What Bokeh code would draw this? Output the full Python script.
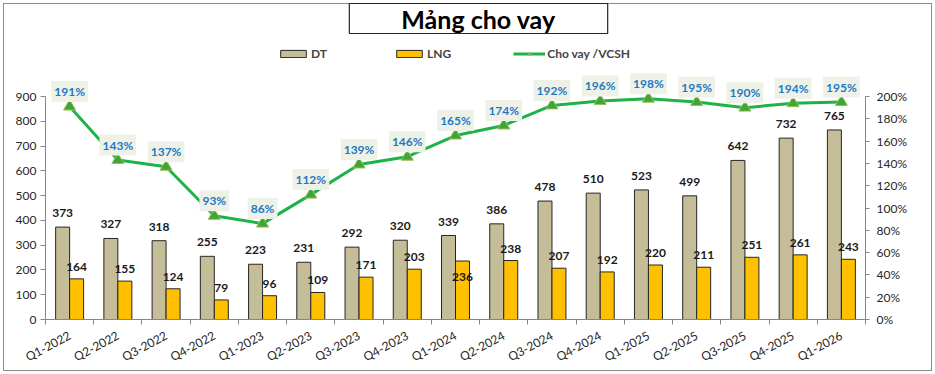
from bokeh.plotting import figure
from bokeh.models import (ColumnDataSource, Range1d, LinearAxis, FixedTicker, NumeralTickFormatter,
                          LabelSet, Label, Legend, LegendItem)
from bokeh.core.properties import value
from bokeh.embed import file_html
from bokeh.resources import INLINE

title_text = "Mảng cho vay"
categories = ["Q1-2022", "Q2-2022", "Q3-2022", "Q4-2022", "Q1-2023", "Q2-2023", "Q3-2023", "Q4-2023",
              "Q1-2024", "Q2-2024", "Q3-2024", "Q4-2024", "Q1-2025", "Q2-2025", "Q3-2025", "Q4-2025", "Q1-2026"]
dt = [373, 327, 318, 255, 223, 231, 292, 320, 339, 386, 478, 510, 523, 499, 642, 732, 765]
lng = [164, 155, 124, 79, 96, 109, 171, 203, 236, 238, 207, 192, 220, 211, 251, 261, 243]
ratio_pct = [191, 143, 137, 93, 86, 112, 139, 146, 165, 174, 192, 196, 198, 195, 190, 194, 195]
left_ticks = [0, 100, 200, 300, 400, 500, 600, 700, 800, 900]
right_ticks_pct = [0, 20, 40, 60, 80, 100, 120, 140, 160, 180, 200]

FONT = "Lato"
W, H = 935, 374
FRAME_L, FRAME_R, AXIS_TOP, FRAME_B = 45, 865, 96, 319   # pixel layout
LEFT_MAX, RIGHT_MAX = 900, 2.0
scale_up = FRAME_B / (FRAME_B - AXIS_TOP)                # frame extends to the top of the canvas

n = len(categories)
xs = list(range(n))
src = ColumnDataSource(dict(
    x=xs,
    x_dt=[i - 0.145 for i in xs],
    x_lng=[i + 0.145 for i in xs],
    dt=dt, lng=lng,
    dt_lab=[str(v) for v in dt],
    lng_lab=[str(v) for v in lng],
    lng_off=[-16 if c == "Q1-2024" else 12 for c in categories],
    ratio=[v / 100 for v in ratio_pct],
    ratio_lab=[f"{v}%" for v in ratio_pct],
))

p = figure(width=W, height=H, output_backend="svg", toolbar_location=None,
           x_range=Range1d(-0.5, n - 0.5), y_range=Range1d(0, LEFT_MAX * scale_up),
           min_border_left=FRAME_L, min_border_right=W - FRAME_R, min_border_top=0,
           min_border_bottom=H - FRAME_B,
           outline_line_color=None, background_fill_color=None, border_fill_color=None)
p.grid.visible = False
p.extra_y_ranges = {"pct": Range1d(0, RIGHT_MAX * scale_up)}
p.styles = {"outline": "1.5px solid #8C8C8C", "outline-offset": "-4px", "background-color": "white"}

axis_col = "#868686"
# x axis
xa = p.xaxis[0]
xa.ticker = FixedTicker(ticks=xs, minor_ticks=[i - 0.5 for i in range(n + 1)])
xa.major_label_overrides = {i: c for i, c in enumerate(categories)}
xa.major_label_orientation = 0.49
xa.major_tick_line_color = None
xa.minor_tick_line_color = axis_col
xa.minor_tick_out = 5
xa.minor_tick_in = 0
xa.axis_line_color = axis_col
xa.major_label_text_font = FONT
xa.major_label_text_font_size = "12px"
xa.major_label_text_color = "#262626"
xa.major_label_standoff = 9

ya = p.yaxis[0]
ya.ticker = FixedTicker(ticks=left_ticks)
ya.bounds = (0, LEFT_MAX)
ya.minor_tick_line_color = None
ya.major_tick_out = 5
ya.major_tick_in = 0
ya.major_tick_line_color = axis_col
ya.axis_line_color = axis_col
ya.major_label_text_font = FONT
ya.major_label_text_font_size = "12px"
ya.major_label_text_color = "#262626"
ya.major_label_standoff = 4

ra = LinearAxis(y_range_name="pct", ticker=FixedTicker(ticks=[v / 100 for v in right_ticks_pct]),
                formatter=NumeralTickFormatter(format="0%"), bounds=(0, RIGHT_MAX))
ra.minor_tick_line_color = None
ra.major_tick_out = 4
ra.major_tick_in = 0
ra.major_tick_line_color = axis_col
ra.axis_line_color = axis_col
ra.major_label_text_font = FONT
ra.major_label_text_font_size = "12px"
ra.major_label_text_color = "#262626"
ra.major_label_standoff = 7
p.add_layout(ra, "right")

bar_w = 0.29
r_dt = p.vbar(x="x_dt", top="dt", width=bar_w, source=src, fill_color="#C4BD97", line_color="#262626", line_width=1)
r_lng = p.vbar(x="x_lng", top="lng", width=bar_w, source=src, fill_color="#FFC000", line_color="#262626", line_width=1)

r_line = p.line(x="x", y="ratio", source=src, y_range_name="pct", line_color="#1DB347", line_width=3)
r_mark = p.scatter(x="x", y="ratio", source=src, y_range_name="pct", marker="triangle", size=12,
                   fill_color="#3FA535", line_color="#9BBB59", line_width=1)

lab_font = dict(text_font=value(FONT), text_font_size="12px", text_font_style="bold",
                text_align="center", text_baseline="middle")
p.add_layout(LabelSet(x="x_dt", y="dt", text="dt_lab", y_offset=14, source=src, text_color="#1a1a1a", **lab_font))
p.add_layout(LabelSet(x="x_lng", y="lng", text="lng_lab", y_offset="lng_off", source=src, text_color="#1a1a1a", **lab_font))
p.text(x="x", y="ratio", text="ratio_lab", y_offset=-15, source=src, y_range_name="pct",
       text_color="#1F78C8", background_fill_color="#EEF2E6", padding=3, **lab_font)

# title box
p.add_layout(Label(x=478, y=18, x_units="canvas", y_units="canvas", text=title_text,
                   text_font=FONT, text_font_size="25px", text_font_style="bold", text_color="black",
                   text_align="center", text_baseline="middle",
                   border_line_color="#262626", border_line_width=1.2, background_fill_color="white",
                   padding=(52, 0)))

legend = Legend(items=[LegendItem(label="DT", renderers=[r_dt]),
                       LegendItem(label="LNG", renderers=[r_lng]),
                       LegendItem(label="Cho vay /VCSH", renderers=[r_line, r_mark])],
                orientation="horizontal", location=(232, 258),
                glyph_width=32, glyph_height=9, label_height=14, label_standoff=2, spacing=62,
                padding=0, margin=0, border_line_color=None, background_fill_alpha=0,
                label_text_font=FONT, label_text_font_size="12px", label_text_font_style="bold")
p.add_layout(legend)

open("out.html", "w").write(file_html(p, INLINE))
